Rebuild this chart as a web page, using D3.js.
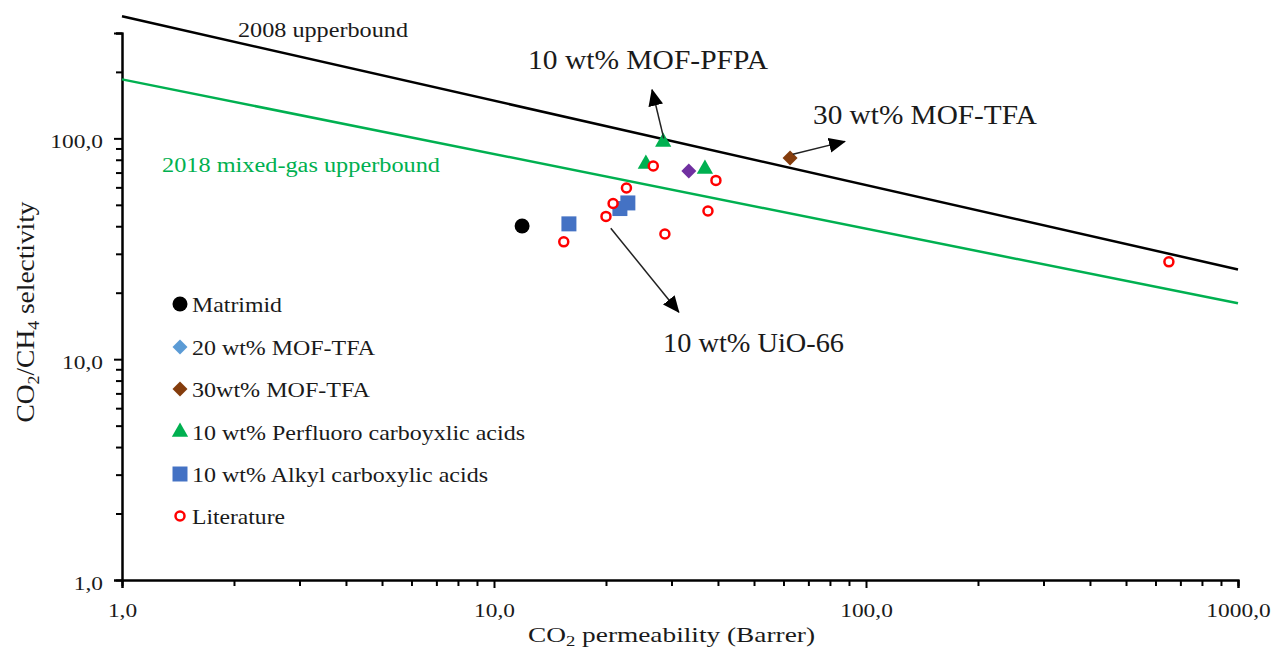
<!DOCTYPE html>
<html>
<head>
<meta charset="utf-8">
<script src="https://cdn.jsdelivr.net/npm/d3@7"></script>
<style>
body { margin: 0; background: #fff; }
text { font-family: "Times New Roman", "Liberation Serif", Tinos, serif; fill: #1a1a1a; }
</style>
</head>
<body>
<script>
// ---- data (CO2 permeability in Barrer, CO2/CH4 selectivity) ----
const matrimidP = [11.9];
const matrimidS = [40.1];
const mof20P = [33.4];
const mof20S = [71.2];
const mof30P = [62.5];
const mof30S = [81.5];
const perfluoroP = [28.5, 25.6, 36.9];
const perfluoroS = [96.3, 76.6, 72.7];
const alkylP = [15.9, 21.8, 22.9];
const alkylS = [41.0, 48.1, 51.0];
const literatureP = [26.8, 39.5, 22.7, 20.9, 20.0, 37.6, 28.8, 15.4, 652];
const literatureS = [75.0, 64.5, 59.6, 50.7, 44.3, 46.9, 36.9, 34.0, 27.6];

// upper bounds, evaluated at both ends of the x axis
const boundP = [1, 1000];
const bound2008 = [357, 25.5];
const bound2018 = [185, 17.9];

const xTicks = [1, 10, 100, 1000];
const yTicks = [1, 10, 100];
const legendNames = ['Matrimid', '20 wt% MOF-TFA', '30wt% MOF-TFA',
    '10 wt% Perfluoro carboyxlic acids', '10 wt% Alkyl carboxylic acids', 'Literature'];

// arrows [fromP, fromS, toP, toS]
const arrows = [
    [28.6, 100, 26.6, 166],
    [63.6, 84.7, 87.8, 96.9],
    [20.6, 39.2, 31.4, 16.3]
];

const width = 1271;
const height = 649;
const margin = { top: 33, right: 33, bottom: 69, left: 122 };

const svg = d3.select('body').append('svg')
    .attr('width', width)
    .attr('height', height);

const xscale = d3.scaleLog().domain([1, 1000]).range([margin.left, width - margin.right]);
const yscale = d3.scaleLog().domain([1, 300]).range([height - margin.bottom, margin.top]);

const fmt = d3.formatLocale({ decimal: ',', thousands: '', grouping: [3], currency: ['', ''] }).format('.1f');

// minor ticks 2..9 per decade
const minor = (lo, hi) => {
    const out = [];
    for (let d = lo; d < hi; d *= 10) {
        for (let k = 2; k < 10; k++) if (d * k <= hi) out.push(d * k);
    }
    return out;
};

// stretch text horizontally to a target width
function fit(sel, w) {
    sel.attr('textLength', w).attr('lengthAdjust', 'spacingAndGlyphs');
}

// ---- axes ----
const g_xminor = svg.append('g')
    .attr('transform', `translate(0, ${yscale(1)})`)
    .call(d3.axisBottom(xscale).tickValues(minor(1, 1000)).tickSize(6).tickFormat(''));
const g_xaxis = svg.append('g')
    .attr('transform', `translate(0, ${yscale(1)})`)
    .call(d3.axisBottom(xscale).tickValues(xTicks).tickSize(8).tickPadding(14).tickFormat(fmt));
const g_yminor = svg.append('g')
    .attr('transform', `translate(${xscale(1)}, 0)`)
    .call(d3.axisLeft(yscale).tickValues(minor(1, 300)).tickSize(6).tickFormat(''));
const g_yaxis = svg.append('g')
    .attr('transform', `translate(${xscale(1)}, 0)`)
    .call(d3.axisLeft(yscale).tickValues(yTicks).tickSize(8).tickPadding(11).tickFormat(fmt));

svg.selectAll('.domain').attr('stroke', '#000').attr('stroke-width', 2);
svg.selectAll('.tick line').attr('stroke', '#000').attr('stroke-width', 2);
g_xaxis.selectAll('text').attr('font-size', 18).attr('fill', '#1a1a1a').attr('y', 24);
g_yaxis.selectAll('text').attr('font-size', 18).attr('fill', '#1a1a1a').attr('dy', '0.5em');
[g_xaxis, g_yaxis].forEach((g) => g.selectAll('text').each(function () {
    const t = d3.select(this);
    fit(t, this.getComputedTextLength() * 1.3);
}));

// axis titles
const xtitle = svg.append('text')
    .attr('x', 528).attr('y', 642)
    .attr('font-size', 22);
xtitle.append('tspan').text('CO');
xtitle.append('tspan').text('2').attr('font-size', 15).attr('dy', 4);
xtitle.append('tspan').text(' permeability  (Barrer)').attr('dy', -4);
fit(xtitle, 287);

const ytitle = svg.append('text')
    .attr('transform', 'translate(34, 312) rotate(-90)')
    .attr('text-anchor', 'middle')
    .attr('font-size', 26);
ytitle.append('tspan').text('CO');
ytitle.append('tspan').text('2').attr('font-size', 17).attr('dy', 5);
ytitle.append('tspan').text('/CH').attr('dy', -5);
ytitle.append('tspan').text('4').attr('font-size', 17).attr('dy', 5);
ytitle.append('tspan').text(' selectivity').attr('dy', -5);
fit(ytitle, 221);

// ---- upper bound lines ----
const line = d3.line().x((d) => xscale(d[0])).y((d) => yscale(d[1]));
svg.append('path')
    .datum(d3.zip(boundP, bound2008))
    .attr('d', line).attr('fill', 'none').attr('stroke', '#000').attr('stroke-width', 2.5);
svg.append('path')
    .datum(d3.zip(boundP, bound2018))
    .attr('d', line).attr('fill', 'none').attr('stroke', '#00b050').attr('stroke-width', 2.5);

fit(svg.append('text').attr('x', 238).attr('y', 37).attr('font-size', 20)
    .text('2008 upperbound'), 170);
fit(svg.append('text').attr('x', 162).attr('y', 172).attr('font-size', 20)
    .style('fill', '#00b050')
    .text('2018 mixed-gas upperbound'), 278);

// ---- markers ----
const series = [
    { p: matrimidP, s: matrimidS, type: 'circle', fill: '#000', legendFill: '#000' },
    { p: mof20P, s: mof20S, type: 'diamond', fill: '#7030a0', legendFill: '#5b9bd5' },
    { p: mof30P, s: mof30S, type: 'diamond', fill: '#843c0c', legendFill: '#843c0c' },
    { p: perfluoroP, s: perfluoroS, type: 'triangle', fill: '#00b050', legendFill: '#00b050' },
    { p: alkylP, s: alkylS, type: 'square', fill: '#4472c4', legendFill: '#4472c4' },
    { p: literatureP, s: literatureS, type: 'open', fill: 'none', legendFill: 'none' }
];

function drawMarker(g, type, fill) {
    if (type === 'circle') {
        g.append('circle').attr('r', 7.5).attr('fill', fill);
    } else if (type === 'open') {
        g.append('circle').attr('r', 4.5).attr('fill', '#fff')
            .attr('stroke', '#ff0000').attr('stroke-width', 2.5);
    } else if (type === 'diamond') {
        g.append('path').attr('d', d3.symbol(d3.symbolSquare, 112)())
            .attr('transform', 'rotate(45)').attr('fill', fill);
    } else if (type === 'triangle') {
        g.append('path').attr('d', d3.symbol(d3.symbolTriangle, 115)()).attr('fill', fill);
    } else {
        g.append('path').attr('d', d3.symbol(d3.symbolSquare, 225)()).attr('fill', fill);
    }
}

series.forEach((sr) => {
    svg.append('g').selectAll('g').data(d3.zip(sr.p, sr.s)).join('g')
        .attr('transform', (d) => `translate(${xscale(d[0])}, ${yscale(d[1])})`)
        .each(function () { drawMarker(d3.select(this), sr.type, sr.fill); });
});

// ---- arrows and annotation labels ----
svg.append('defs').append('marker')
    .attr('id', 'head')
    .attr('viewBox', '0 -8 17 16')
    .attr('markerUnits', 'userSpaceOnUse')
    .attr('markerWidth', 17).attr('markerHeight', 16)
    .attr('refX', 16).attr('refY', 0)
    .attr('orient', 'auto')
    .append('path').attr('d', 'M0,-7.5L17,0L0,7.5Z').attr('fill', '#000');

svg.append('g').selectAll('line').data(arrows).join('line')
    .attr('x1', (d) => xscale(d[0])).attr('y1', (d) => yscale(d[1]))
    .attr('x2', (d) => xscale(d[2])).attr('y2', (d) => yscale(d[3]))
    .attr('stroke', '#222').attr('stroke-width', 1.5)
    .attr('marker-end', 'url(#head)');

fit(svg.append('text').attr('x', 528).attr('y', 69).attr('font-size', 27)
    .text('10 wt% MOF-PFPA'), 240);
fit(svg.append('text').attr('x', 813).attr('y', 124).attr('font-size', 27)
    .text('30 wt% MOF-TFA'), 224);
fit(svg.append('text').attr('x', 663).attr('y', 352).attr('font-size', 27)
    .text('10 wt% UiO-66'), 181);

// ---- legend ----
const legendY = [304, 347, 389, 432, 474, 516];
const legendW = [90, 183, 178, 333, 296, 93];
const legend = svg.append('g').selectAll('g').data(series).join('g')
    .attr('transform', (d, i) => `translate(180, ${legendY[i]})`);
legend.each(function (d) { drawMarker(d3.select(this), d.type, d.legendFill); });
legend.append('text')
    .attr('x', 12).attr('y', 7.5)
    .attr('font-size', 21)
    .text((d, i) => legendNames[i])
    .each(function (d, i) { fit(d3.select(this), legendW[i]); });
</script>
</body>
</html>
